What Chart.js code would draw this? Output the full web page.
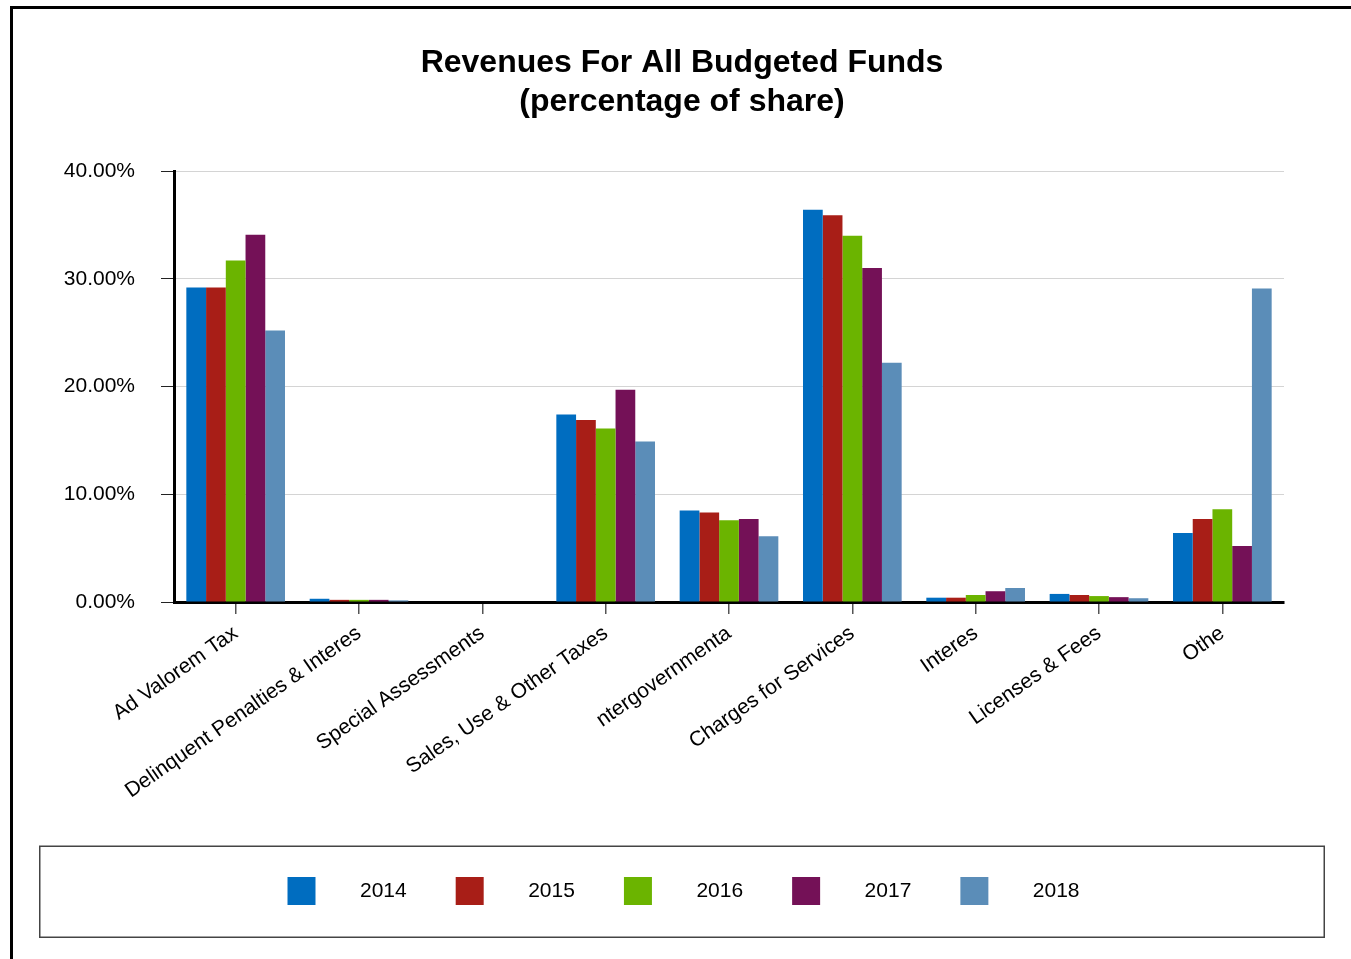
<!DOCTYPE html>
<html>
<head>
<meta charset="utf-8">
<script src="https://cdn.jsdelivr.net/npm/chart.js@4/dist/chart.umd.min.js"></script>
<style>
  html, body { margin: 0; padding: 0; background: #fff; }
  #frame { position: absolute; left: 10px; top: 6px; border-left: 3px solid #000; border-top: 3px solid #000; width: 1338px; height: 950px; }
  canvas { display: block; }
</style>
</head>
<body>
<div id="frame"><canvas id="c" width="1338" height="950"></canvas></div>
<script>
const categories = ["Ad Valorem Tax", "Delinquent Penalties & Interes", "Special Assessments", "Sales, Use & Other Taxes", "ntergovernmenta", "Charges for Services", "Interes", "Licenses & Fees", "Othe"];
const years = ["2014", "2015", "2016", "2017", "2018"];
const s2014 = [29.2, 0.3, 0, 17.4, 8.5, 36.4, 0.4, 0.75, 6.4];
const s2015 = [29.2, 0.2, 0, 16.9, 8.3, 35.9, 0.4, 0.65, 7.7];
const s2016 = [31.7, 0.2, 0, 16.1, 7.6, 34.0, 0.65, 0.55, 8.6];
const s2017 = [34.1, 0.2, 0, 19.7, 7.7, 31.0, 1.0, 0.45, 5.2];
const s2018 = [25.2, 0.15, 0, 14.9, 6.1, 22.2, 1.3, 0.35, 29.1];
const yTicks = [0, 10, 20, 30, 40];
const colors = ["#006dc0", "#a81e17", "#6bb400", "#741157", "#5b8db8"];
const seriesValues = [s2014, s2015, s2016, s2017, s2018];

const FONT = "'Liberation Sans', Arial, sans-serif";

function legendSwatch(color) {
  const c = document.createElement('canvas');
  c.width = 65; c.height = 28;
  const g = c.getContext('2d');
  g.fillStyle = color;
  g.fillRect(3, 0, 28, 28);
  return c;
}

const legendFrame = {
  id: 'legendFrame',
  afterDraw(chart) {
    const lg = chart.legend;
    const pad = chart.options.plugins.legend.labels.padding;
    const ctx = chart.ctx;
    ctx.save();
    ctx.strokeStyle = '#444';
    ctx.lineWidth = 1.5;
    const top = Math.round(lg.top + pad - 34.5) + 0.25;
    ctx.strokeRect(lg.left + 0.75, top, lg.width - 1.5, 91);
    ctx.restore();
  }
};

new Chart(document.getElementById('c'), {
  type: 'bar',
  data: {
    labels: categories,
    datasets: years.map((y, i) => ({
      label: y,
      data: seriesValues[i],
      backgroundColor: colors[i],
      borderWidth: 0,
      categoryPercentage: 0.8,
      barPercentage: 1.0
    }))
  },
  options: {
    responsive: false,
    animation: false,
    devicePixelRatio: 1,
    layout: { padding: { left: 26, right: 26, top: 0, bottom: 47.5 } },
    plugins: {
      title: {
        display: true,
        text: ["Revenues For All Budgeted Funds", "(percentage of share)"],
        color: '#000',
        font: { family: FONT, size: 32, weight: 'bold', lineHeight: 1.22 },
        padding: { top: 35, bottom: 49 }
      },
      legend: {
        position: 'bottom',
        labels: {
          usePointStyle: true,
          pointStyleWidth: 65,
          padding: 46,
          color: '#000',
          font: { family: FONT, size: 21 },
          generateLabels(chart) {
            return chart.data.datasets.map((ds, i) => ({
              text: ds.label,
              pointStyle: legendSwatch(colors[i]),
              fillStyle: colors[i],
              strokeStyle: colors[i],
              lineWidth: 0,
              fontColor: '#000',
              hidden: !chart.isDatasetVisible(i),
              datasetIndex: i
            }));
          }
        }
      },
      tooltip: { enabled: false }
    },
    scales: {
      x: {
        grid: { display: true, drawOnChartArea: false, offset: false, tickLength: 12, tickColor: '#555', lineWidth: 1.5 },
        border: { display: true, color: '#000', width: 3 },
        ticks: { color: '#000', font: { family: FONT, size: 21 }, minRotation: 35, maxRotation: 35, autoSkip: false, padding: 7 },
        afterFit(s) { s.height = 232.5; }
      },
      y: {
        min: 0, max: 40,
        afterBuildTicks(s) { s.ticks = yTicks.map(v => ({ value: v })); },
        grid: { color: '#d4d4d4', lineWidth: 1, tickLength: 13, tickColor: '#222' },
        border: { display: true, color: '#000', width: 3 },
        ticks: { color: '#000', font: { family: FONT, size: 21 }, padding: 26, callback: v => v.toFixed(2) + '%' },
        afterFit(s) { s.width = 135; }
      },
      yR: {
        position: 'right',
        display: true,
        grid: { display: false },
        border: { display: false },
        ticks: { display: false },
        afterFit(s) { s.width = 41; }
      }
    }
  },
  plugins: [legendFrame]
});
</script>
</body>
</html>
